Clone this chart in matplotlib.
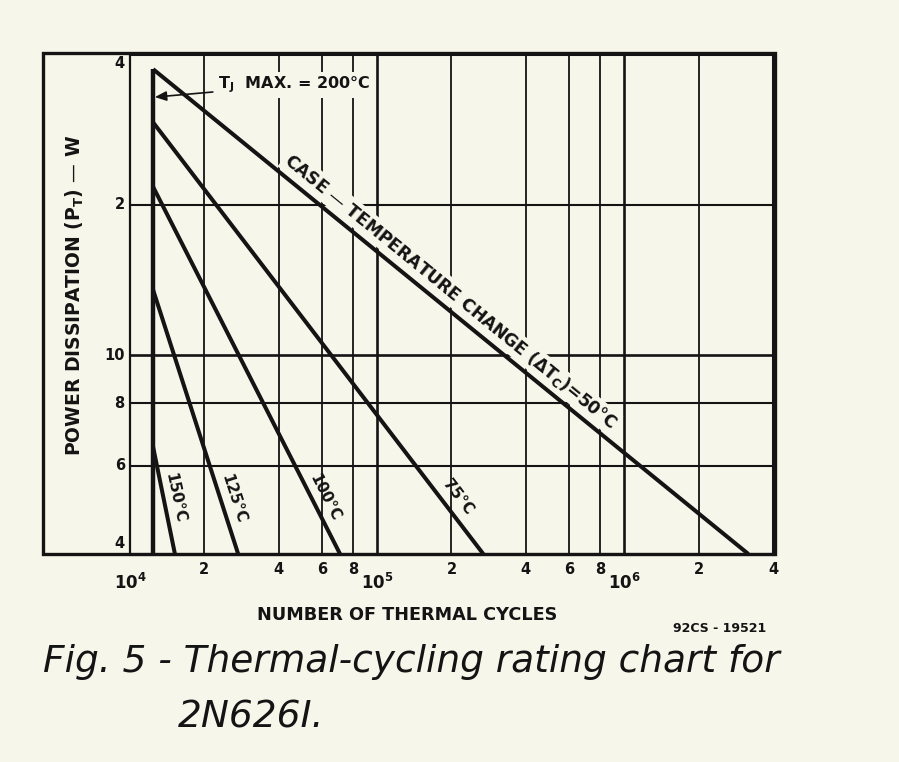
import matplotlib.pyplot as plt
from matplotlib.patches import Rectangle

# values (log-log)
curve_names = ["CASE", "75", "100", "125", "150"]
n_tj_max = 1.24e4                              # cycles where T_J max line sits
p_start = [37.3, 29.2, 21.7, 13.5, 6.55]       # W on the T_J max line
n_end = [3.18e6, 2.69e5, 7.08e4, 2.74e4, 1.52e4]  # cycles where each line hits 4 W
p_end = 4.0

x_grid = [2e4, 4e4, 6e4, 8e4, 1e5, 2e5, 4e5, 6e5, 8e5, 1e6, 2e6]
x_num_ticks = [2e4, 4e4, 6e4, 8e4, 2e5, 4e5, 6e5, 8e5, 2e6, 4e6]
x_num_labels = ["2", "4", "6", "8", "2", "4", "6", "8", "2", "4"]
x_decades = [1e4, 1e5, 1e6]
x_decade_labels = ["$\\mathbf{10^4}$", "$\\mathbf{10^5}$", "$\\mathbf{10^6}$"]
y_grid = [6, 8, 10, 20]
y_label_pos = [4.19, 6, 8, 10, 20, 38.3]
y_labels = ["4", "6", "8", "10", "2", "4"]

BG = "#f7f6ea"
INK = "#141414"
W, H = 899, 762

fig = plt.figure(figsize=(W / 100, H / 100), dpi=100, facecolor=BG)
ax = fig.add_axes([130 / W, 1 - 554 / H, 643 / W, 500 / H])
ax.set_facecolor(BG)
ax.set_xscale("log")
ax.set_yscale("log")
ax.set_xlim(1e4, 4e6)
ax.set_ylim(4, 40)
ax.set_xticks([])
ax.set_yticks([])
ax.minorticks_off()
for s in ax.spines.values():
    s.set_color(INK)
    s.set_linewidth(2.2)
ax.spines["left"].set_linewidth(1.6)

for xv in x_grid:
    lw = 1.9 if xv in x_decades else 1.3
    ax.axvline(xv, color=INK, lw=lw, zorder=1)
for yv in y_grid:
    ax.axhline(yv, color=INK, lw=1.5 if yv != 10 else 1.9, zorder=1)

# T_J max line and the rating lines
ax.plot([n_tj_max, n_tj_max], [p_end, p_start[0]], color=INK, lw=3.2,
        solid_capstyle="butt", zorder=3)
for ps, ne in zip(p_start, n_end):
    ax.plot([n_tj_max, ne], [ps, p_end], color=INK, lw=2.9,
            solid_capstyle="butt", zorder=3)

# labels along the lines
lab_kw = dict(color=INK, fontsize=11, fontweight="bold", ha="center",
              va="center", rotation_mode="anchor", zorder=4)
ax.text(1.52e4, 5.18, "150°C", rotation=-78, **lab_kw)
ax.text(2.61e4, 5.16, "125°C", rotation=-72, **lab_kw)
ax.text(6.16e4, 5.2, "100°C", rotation=-63, **lab_kw)
ax.text(2.13e5, 5.2, "75°C", rotation=-52.5, **lab_kw)
lab_kw["fontsize"] = 12.3
ax.text(1.98e5, 13.4, "CASE — TEMPERATURE CHANGE (ΔT$_\\mathbf{C}$)=50°C",
        rotation=-39.2,
        bbox=dict(boxstyle="square,pad=0.1", fc=BG, ec="none"), **lab_kw)

ax.annotate("T$_\\mathbf{J}$  MAX. = 200°C", xy=(1.26e4, 32.8), xytext=(2.27e4, 34.7),
            color=INK, fontsize=11.5, fontweight="bold", ha="left", va="center",
            bbox=dict(boxstyle="square,pad=0.15", fc=BG, ec="none"),
            arrowprops=dict(arrowstyle="-|>,head_length=0.6,head_width=0.25",
                            color=INK, lw=1.2, shrinkA=2, shrinkB=0),
            zorder=5)

# tick labels
xt = ax.get_xaxis_transform()
for xv, lab in zip(x_num_ticks, x_num_labels):
    ax.text(xv, -0.032, lab, transform=xt, ha="center", va="center",
            fontsize=10.5, fontweight="bold", color=INK, clip_on=False)
for xv, lab in zip(x_decades, x_decade_labels):
    ax.text(xv, -0.058, lab, transform=xt, ha="center", va="center",
            fontsize=12, color=INK, clip_on=False)
yt = ax.get_yaxis_transform()
for yv, lab in zip(y_label_pos, y_labels):
    ax.text(-0.008, yv, lab, transform=yt, ha="right", va="center",
            fontsize=10.5, fontweight="bold", color=INK, clip_on=False)

# outer frame taking in the y labels
fig.add_artist(Rectangle((43 / W, 1 - 554 / H), (775 - 43) / W, 501 / H,
                         transform=fig.transFigure, fill=False, ec=INK, lw=2.4))

fig.text(75 / W, 1 - 295 / H, "POWER DISSIPATION (P$_\\mathbf{T}$) — W", rotation=90,
         ha="center", va="center", fontsize=13.5, fontweight="bold", color=INK)
fig.text(407 / W, 1 - 615 / H, "NUMBER OF THERMAL CYCLES", ha="center", va="center",
         fontsize=12.7, fontweight="bold", color=INK)
fig.text(720 / W, 1 - 628 / H, "92CS - 19521", ha="center", va="center",
         fontsize=9, fontweight="bold", color=INK)

cap_font = ["DejaVu Sans"]
fig.text(43 / W, 1 - 662 / H, "Fig. 5 - Thermal-cycling rating chart for",
         ha="left", va="center", fontsize=27, style="italic", family=cap_font,
         color=INK)
fig.text(178 / W, 1 - 718 / H, "2N626I.", ha="left", va="center", fontsize=27,
         style="italic", family=cap_font, color=INK)

fig.savefig("out.png", dpi=100, facecolor=BG)
